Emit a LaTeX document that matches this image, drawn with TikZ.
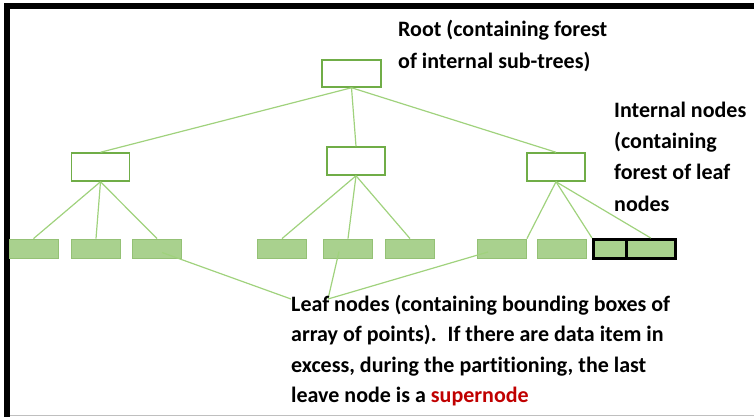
\documentclass[tikz,border=0pt]{standalone}
\usepackage{fontspec}
\setmainfont{Carlito}[Ligatures=NoCommon]
\usetikzlibrary{calc}
\definecolor{boxgreen}{RGB}{112,173,71}
\definecolor{leafgreen}{RGB}{169,209,142}
\definecolor{linkgreen}{RGB}{160,210,125}
\definecolor{superred}{RGB}{192,0,0}
\tikzstyle{treebox}=[draw=boxgreen,line width=1.5pt,fill=white,minimum width=58pt,minimum height=28pt,inner sep=0pt]
\tikzstyle{leafbox}=[draw=boxgreen!75,line width=0.8pt,fill=leafgreen,minimum width=49pt,minimum height=19pt,inner sep=0pt]
\tikzstyle{superbox}=[draw=black,line width=3pt,fill=leafgreen,minimum height=19pt,inner sep=0pt]
\tikzstyle{link}=[draw=linkgreen,line width=1.2pt]
\tikzstyle{note}=[font=\bfseries\fontsize{22}{30.5}\selectfont,align=left,anchor=base west,inner sep=0pt]

\begin{document}
\begin{tikzpicture}[x=1pt,y=-1pt]
    \useasboundingbox (0,0) rectangle (754,417);
    % cadre
    \fill[black] (4,3) rectangle (754,9);
    \fill[black] (4,3) rectangle (10,417);
    \draw[gray!50,line width=1pt] (10,415.5) -- (754,415.5);
    % racine et noeuds internes
    \node[treebox,minimum width=59pt,minimum height=27pt] (root) at (351.5,73.5) {};
    \foreach \pos/\name in {{(100.5,167)/iL}, {(356,161)/iM}, {(556,167)/iR}}
        \node[treebox] (\name) at \pos {};
    % feuilles
    \foreach \pos/\name in {{(33.5,248.5)/l1}, {(96,248.5)/l2}, {(157,248.5)/l3}, {(282,248.5)/l4}, {(348,248.5)/l5}, {(410,248.5)/l6}, {(502,248.5)/l7}, {(561.5,248.5)/l8}}
        \node[leafbox] (\name) at \pos {};
    % supernoeud
    \node[superbox,minimum width=32.5pt] (s1) at (609.75,249) {};
    \node[superbox,minimum width=49.5pt] (s2) at (650.75,249) {};
    % aretes
    \foreach \source/\dest in {root/iL, root/iM, root/iR, iL/l1, iL/l2, iL/l3, iM/l4, iM/l5, iM/l6}
        \path[link] (\source.south) -- (\dest.north);
    \path[link] (iR.south) -- (l7.north east);
    \path[link] (iR.south) -- (s1.north west);
    \path[link] (iR.south) -- (s2.north);
    % renvois vers le texte
    \coordinate (p1) at (291,299);
    \coordinate (p2) at (328,299);
    \path[link] (p1) -- ($(l3.center)+(5,4)$);
    \path[link] (p2) -- ($(l5.center)+(-9,3)$);
    \path[link] (p2) -- ($(l7.center)+(-14,3.5)$);
    % textes
    \node[note,font=\bfseries\fontsize{22}{32}\selectfont] (troot) at (398,69) {Root (containing forest\\of internal sub-trees)};
    \node[note,fill=white,inner xsep=4pt,font=\bfseries\fontsize{22}{31.3}\selectfont] (tint) at (610,211) {Internal nodes\\(containing\\forest of leaf\\nodes};
    \node[note] (tleaf) at (291,402.5) {Leaf nodes (containing bounding boxes of\\array of points).\enspace If there are data item in\\excess, during the partitioning, the last\\leave node is a \textcolor{superred}{supernode}};
\end{tikzpicture}
\end{document}
